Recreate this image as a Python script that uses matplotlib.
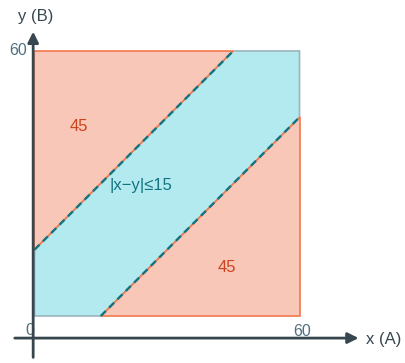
import matplotlib.pyplot as plt
from matplotlib.patches import Polygon

plt.rcParams['font.family'] = ['Liberation Sans', 'DejaVu Sans']

# data
side = 60
band = 15
upper_tri = [(0, band), (0, side), (side - band, side)]
lower_tri = [(band, 0), (side, 0), (side, side - band)]
band_poly = [(0, 0), (band, 0), (side, side - band), (side, side), (side - band, side), (0, band)]
upper_line_x = [0, side - band]
upper_line_y = [band, side]
lower_line_x = [band, side]
lower_line_y = [0, side - band]
region_labels = ["45", "45", "|x\u2212y|\u226415"]
region_pos = [(10, 43), (43.5, 11), (24, 29.5)]
tick_labels = ["0", "60", "60"]

salmon = "#F9C7B7"
orange = "#F2784B"
cyan = "#B3EAF0"
teal = "#137480"
axis_col = "#37474F"
tick_col = "#50707F"

fig = plt.figure(figsize=(4.05, 3.63), dpi=100)
ax = fig.add_axes([0, 0, 1, 1])
ax.set_xlim(-7.81, 83.88)
ax.set_ylim(-10.64, 71.54)
ax.axis("off")

ax.add_patch(Polygon(band_poly, closed=True, facecolor=cyan, edgecolor="#9DB3BD", lw=1.2, zorder=1))
ax.add_patch(Polygon(upper_tri, closed=True, facecolor=salmon, edgecolor=orange, lw=1.2, zorder=2))
ax.add_patch(Polygon(lower_tri, closed=True, facecolor=salmon, edgecolor=orange, lw=1.2, zorder=2))

ax.plot(upper_line_x, upper_line_y, color=teal, lw=1.7, dashes=(3, 2), zorder=3)
ax.plot(lower_line_x, lower_line_y, color=teal, lw=1.7, dashes=(3, 2), zorder=3)

# axes with arrows
ax.annotate("", xy=(74, -5), xytext=(-5.1, -5),
            arrowprops=dict(arrowstyle="-|>", color=axis_col, lw=2, mutation_scale=16), zorder=4)
ax.annotate("", xy=(-0.3, 65), xytext=(-0.3, -10),
            arrowprops=dict(arrowstyle="-|>", color=axis_col, lw=2, mutation_scale=16), zorder=4)

ax.text(75, -5.3, "x (A)", fontsize=12, color=axis_col, ha="left", va="center")
ax.text(0.3, 67.8, "y (B)", fontsize=12, color=axis_col, ha="center", va="center")

ax.text(-1.1, -3.3, tick_labels[0], fontsize=11.5, color=tick_col, ha="center", va="center")
ax.text(60.6, -3.5, tick_labels[1], fontsize=11.5, color=tick_col, ha="center", va="center")
ax.text(-1.7, 60.2, tick_labels[2], fontsize=11.5, color=tick_col, ha="right", va="center")

for (tx, ty), lab in zip(region_pos, region_labels):
    c = teal if "|" in lab else "#C9441C"
    ax.text(tx, ty, lab, fontsize=12, color=c, ha="center", va="center", zorder=5)

fig.savefig("out.png", dpi=100)
